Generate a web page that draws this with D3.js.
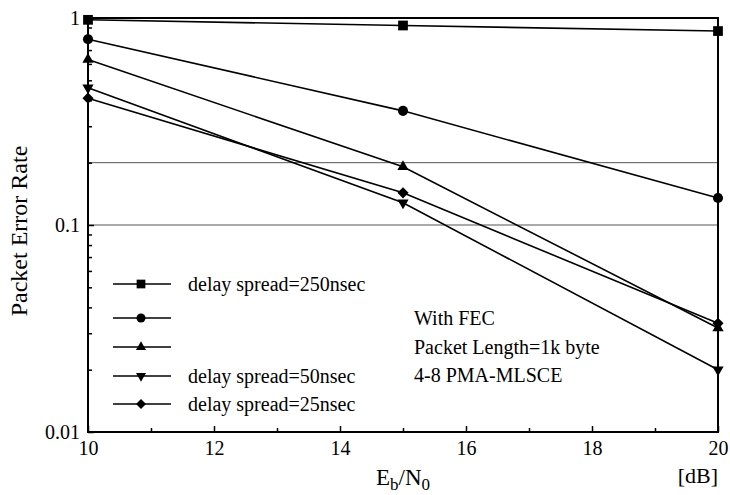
<!DOCTYPE html>
<html>
<head>
<meta charset="utf-8">
<script src="https://cdn.jsdelivr.net/npm/d3@7"></script>
<style>
  body { margin: 0; background: #fff; }
  svg { font-family: "Liberation Serif", "Times New Roman", serif; }
</style>
</head>
<body>
<svg id="vis1"></svg>
<script>
// x values (Eb/N0 in dB)
var snr = [10, 15, 20]

// packet error rate per delay spread
var per250 = [0.98, 0.92, 0.865]
var perCircle = [0.79, 0.356, 0.135]
var perTriUp = [0.63, 0.191, 0.0318]
var per50 = [0.46, 0.128, 0.020]
var per25 = [0.41, 0.143, 0.0335]

var seriesNames = ["delay spread=250nsec", "", "", "delay spread=50nsec", "delay spread=25nsec"]
var seriesShapes = ["square", "circle", "triangleUp", "triangleDown", "diamond"]
var seriesValues = [per250, perCircle, perTriUp, per50, per25]

var refLines = [0.2, 0.1]
var xTicks = [10, 12, 14, 16, 18, 20]
var yTicks = [0.01, 0.1, 1]
var notes = ["With FEC", "Packet Length=1k byte", "4-8 PMA-MLSCE"]

var dimensions = ({
  width: 730,
  height: 495,
  margin: { top: 18, right: 12, bottom: 63, left: 88 }
})

var svg = d3.select("#vis1")
  .attr("width", dimensions.width)
  .attr("height", dimensions.height)

var xScale = d3.scaleLinear()
  .domain([10, 20])
  .range([dimensions.margin.left, dimensions.width - dimensions.margin.right])

var yScale = d3.scaleLog()
  .domain([0.01, 1])
  .range([dimensions.height - dimensions.margin.bottom, dimensions.margin.top])

var x0 = xScale.range()[0], x1 = xScale.range()[1]
var y0 = yScale.range()[0], y1 = yScale.range()[1]

var isMajorY = d => yTicks.some(t => Math.abs(t - d) < 1e-9)

// reference lines
svg.append("g")
  .selectAll("line")
  .data(refLines)
  .enter()
  .append("line")
  .attr("x1", x0).attr("x2", x1)
  .attr("y1", d => yScale(d)).attr("y2", d => yScale(d))
  .attr("stroke", "#555")
  .attr("stroke-width", 1)

// axes: ticks point inward
var xAxisGen = d3.axisBottom(xScale)
  .tickValues(d3.range(10, 20.5, 1))
  .tickSize(-6)
  .tickFormat(d => xTicks.includes(d) ? d : "")
var xAxis = svg.append("g")
  .attr("transform", `translate(0,${y0})`)
  .call(xAxisGen)
xAxis.selectAll(".tick line")
  .attr("y2", d => xTicks.includes(d) ? -6 : -4)
xAxis.selectAll(".tick text").attr("y", 23).attr("dy", 0)

var minorY = []
;[0.01, 0.1].forEach(b => { for (var i = 1; i <= 9; i++) minorY.push(b * i) })
minorY.push(1)
var yAxisGen = d3.axisLeft(yScale)
  .tickValues(minorY)
  .tickSize(-6)
  .tickFormat(d => isMajorY(d) ? d3.format("")(+d.toPrecision(3)) : "")
var yAxis = svg.append("g")
  .attr("transform", `translate(${x0},0)`)
  .call(yAxisGen)
yAxis.selectAll(".tick line")
  .attr("x2", d => isMajorY(d) ? 6 : 4)
yAxis.selectAll(".tick text").attr("x", -8)

svg.selectAll(".domain").remove()
svg.selectAll(".tick line").attr("stroke", "#000").attr("stroke-width", 1.5)
svg.selectAll(".tick text")
  .attr("fill", "#000")
  .style("font-family", "Liberation Serif, serif")
  .style("font-size", "20px")

// frame
svg.append("rect")
  .attr("x", x0).attr("y", y1)
  .attr("width", x1 - x0).attr("height", y0 - y1)
  .attr("fill", "none")
  .attr("stroke", "#000")
  .attr("stroke-width", 2)

var symbolFor = {
  square: { type: d3.symbolSquare, size: 95, rot: 0 },
  circle: { type: d3.symbolCircle, size: 80, rot: 0 },
  triangleUp: { type: d3.symbolTriangle, size: 55, rot: 0 },
  triangleDown: { type: d3.symbolTriangle, size: 55, rot: 180 },
  diamond: { type: d3.symbolSquare, size: 62, rot: 45 }
}
function marker(shape, scale) {
  var s = symbolFor[shape]
  return d3.symbol().type(s.type).size(s.size * scale)()
}

var line = d3.line()
  .x((d, i) => xScale(snr[i]))
  .y(d => yScale(d))

seriesValues.forEach(function (vals, s) {
  var shape = seriesShapes[s]
  svg.append("path")
    .datum(vals)
    .attr("d", line)
    .attr("fill", "none")
    .attr("stroke", "#000")
    .attr("stroke-width", 1.6)

  svg.append("g")
    .selectAll("path")
    .data(vals)
    .enter()
    .append("path")
    .attr("d", marker(shape, 1))
    .attr("transform", (d, i) => `translate(${xScale(snr[i])},${yScale(d)}) rotate(${symbolFor[shape].rot})`)
    .attr("fill", "#000")
})

// legend
var legendRows = [284, 318, 347, 376, 404]
var legend = svg.append("g")
seriesNames.forEach(function (name, s) {
  var ly = legendRows[s]
  var shape = seriesShapes[s]
  legend.append("line")
    .attr("x1", 113).attr("x2", 171)
    .attr("y1", ly).attr("y2", ly)
    .attr("stroke", "#000").attr("stroke-width", 1.6)
  legend.append("path")
    .attr("d", marker(shape, 0.8))
    .attr("transform", `translate(141,${ly}) rotate(${symbolFor[shape].rot})`)
    .attr("fill", "#000")
  legend.append("text")
    .attr("x", 188).attr("y", ly + 7)
    .style("font-size", "20px")
    .text(name)
})

// notes
svg.append("g")
  .selectAll("text")
  .data(notes)
  .enter()
  .append("text")
  .attr("x", 414)
  .attr("y", (d, i) => 325 + i * 28.5)
  .style("font-size", "20px")
  .text(d => d)

// axis titles
var xTitle = svg.append("text")
  .attr("x", 403)
  .attr("y", 485)
  .attr("text-anchor", "middle")
  .style("font-size", "23px")
xTitle.append("tspan").text("E")
xTitle.append("tspan").attr("dy", 5).style("font-size", "17px").text("b")
xTitle.append("tspan").attr("dy", -5).text("/N")
xTitle.append("tspan").attr("dy", 5).style("font-size", "17px").text("0")

svg.append("text")
  .attr("x", 718).attr("y", 483)
  .attr("text-anchor", "end")
  .style("font-size", "22px")
  .text("[dB]")

svg.append("text")
  .attr("transform", `translate(27,${(y0 + y1) / 2 + 6}) rotate(-90)`)
  .attr("text-anchor", "middle")
  .style("font-size", "24px")
  .text("Packet Error Rate")
</script>
</body>
</html>
